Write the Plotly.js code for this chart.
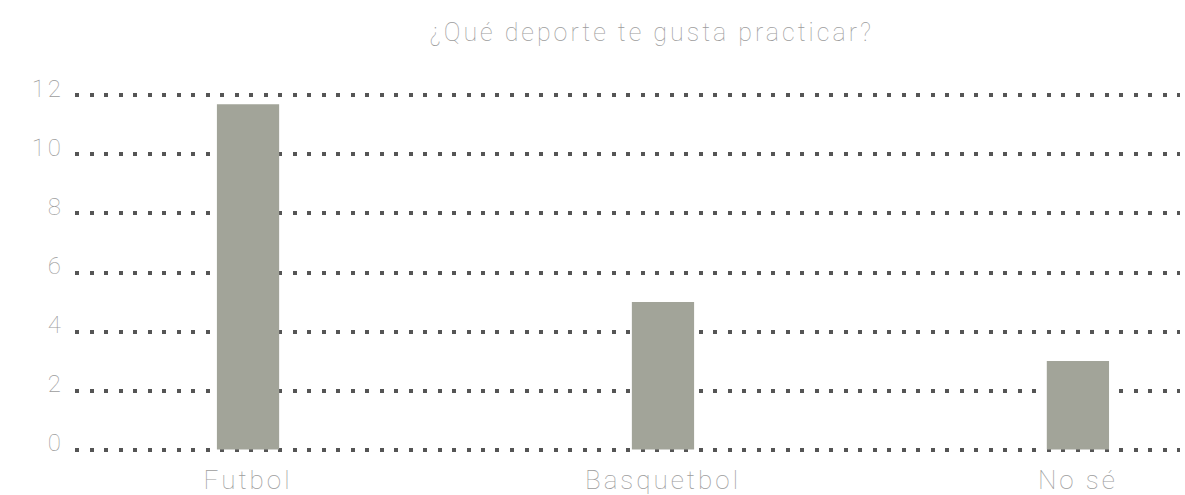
<!DOCTYPE html>
<html>
<head>
<meta charset="utf-8">
<script src="https://cdn.plot.ly/plotly-3.0.1.min.js"></script>
<style>
html,body{margin:0;padding:0;background:#fff;}
#chart{width:1185px;height:495px;}
#chart text{letter-spacing:3px;}
</style>
</head>
<body>
<div id="chart"></div>
<script>
const chartTitle = "¿Qué deporte te gusta practicar?";
const categories = ["Futbol", "Basquetbol", "No sé"];
const values = [11.7, 5, 3];
const yTicks = [0, 2, 4, 6, 8, 10, 12];

const FONT = "Roboto, 'DejaVu Sans', sans-serif";
const TEXT = "#9c9c9c";

const trace = {
  type: "bar",
  x: categories,
  y: values,
  width: 0.15,
  marker: {color: "#a2a499"},
  hoverinfo: "x+y"
};

const layout = {
  width: 1185,
  height: 495,
  margin: {l: 75, r: 5, t: 91, b: 41},
  paper_bgcolor: "#ffffff",
  plot_bgcolor: "#ffffff",
  showlegend: false,
  font: {family: FONT, color: TEXT, size: 24, weight: 100},
  title: {
    text: chartTitle,
    font: {family: FONT, size: 25, color: TEXT, weight: 100},
    x: 0.55, xref: "container", xanchor: "center",
    y: 0.935, yref: "container", yanchor: "middle"
  },
  xaxis: {
    type: "category",
    range: [-0.417, 2.246],
    showgrid: false,
    zeroline: false,
    showline: false,
    ticks: "",
    tickfont: {family: FONT, size: 26, color: TEXT, weight: 100},
    ticklabelstandoff: 8
  },
  yaxis: {
    range: [-0.15, 12.15],
    tickvals: yTicks,
    ticktext: yTicks.map(String),
    showgrid: true,
    gridcolor: "#555555",
    gridwidth: 4,
    griddash: "4px,10.5px",
    zeroline: false,
    showline: false,
    ticks: "",
    tickfont: {family: FONT, size: 24, color: TEXT, weight: 100},
    ticklabelstandoff: 10,
    ticklabelshift: -7
  }
};

Plotly.newPlot("chart", [trace], layout, {displayModeBar: false, staticPlot: true});
</script>
</body>
</html>
